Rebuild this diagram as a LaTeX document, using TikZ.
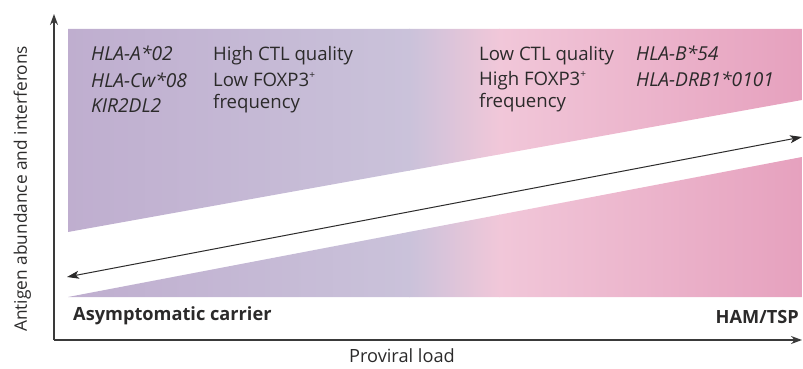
\documentclass[tikz,border=0pt]{standalone}
\usepackage{fontspec}
\setmainfont{Open Sans}
\usetikzlibrary{arrows.meta}
\definecolor{txt}{HTML}{2B2A2A}
\definecolor{axc}{HTML}{3A3A3A}
\definecolor{cA}{HTML}{BFAECF}
\definecolor{cB}{HTML}{CAC2DA}
\definecolor{cC}{HTML}{F1C7D9}
\definecolor{cD}{HTML}{E6A1BE}
\newcommand{\supplus}{\raisebox{0.42em}{\fontsize{10}{10}\selectfont +}}
\tikzset{
  lbl/.style={inner sep=0pt, anchor=base west, text=txt, font=\fontsize{18.6}{22}\selectfont},
  lbli/.style={lbl, font=\fontsize{19.2}{22}\selectfont\itshape},
  lblb/.style={inner sep=0pt, text=txt, font=\fontsize{18.2}{22}\selectfont\bfseries},
  lbls/.style={inner sep=0pt, text=txt, font=\fontsize{18.2}{22}\selectfont},
  axis/.style={draw=axc, line width=1.3pt, -{Stealth[length=11pt,width=8pt]}},
  dbl/.style={draw=txt, line width=1pt, {Stealth[length=12pt,width=8pt,inset=3pt]}-{Stealth[length=12pt,width=8pt,inset=3pt]}}
}
\begin{document}
\begin{tikzpicture}[x=1pt,y=-1pt]
\useasboundingbox (0,0) rectangle (803,369);
% shaded bands
\begin{scope}
\clip (68,29) -- (802,29) -- (802,100) -- (68,232) -- cycle
      (68,297) -- (802,157) -- (802,297) -- cycle;
\shade[left color=cA, right color=cB] (67,20) rectangle (410,300);
\shade[left color=cB, right color=cC] (409,20) rectangle (500,300);
\shade[left color=cC, right color=cD] (499,20) rectangle (803,300);
\end{scope}
% axes
\coordinate (O) at (54,340);
\coordinate (ytop) at (54,14);
\coordinate (xend) at (802,340);
\draw[axis] (O) -- (ytop);
\draw[axis] (O) -- (xend);
% double arrow
\coordinate (dl) at (67,277);
\coordinate (dr) at (802,137);
\draw[dbl] (dl) -- (dr);
% texts left
\node[lbli] (a1) at (91,61) {HLA-A*02};
\node[lbli] (a2) at (91,87) {HLA-Cw*08};
\node[lbli] (a3) at (91,112) {KIR2DL2};
\node[lbl] (b1) at (213,61) {High CTL quality};
\node[lbl] (b2) at (213,86) {Low FOXP3\supplus};
\node[lbl] (b3) at (213,108) {frequency};
% texts right
\node[lbl] (c1) at (479,61) {Low CTL quality};
\node[lbl] (c2) at (479,85) {High FOXP3\supplus};
\node[lbl] (c3) at (479,107) {frequency};
\node[lbli] (d1) at (636,61) {HLA-B*54};
\node[lbli] (d2) at (636,86) {HLA-DRB1*0101};
% bottom labels
\node[lblb, anchor=base west] (ac) at (73,320) {Asymptomatic carrier};
\node[lblb, anchor=base east] (ham) at (799,323) {HAM/TSP};
\node[lbls, anchor=base] (pl) at (402,362) {Proviral load};
\node[inner sep=0pt, text=txt, font=\fontsize{17.3}{20}\selectfont, anchor=base west, rotate=90] (ya) at (27,332) {Antigen abundance and interferons};
\end{tikzpicture}
\end{document}
